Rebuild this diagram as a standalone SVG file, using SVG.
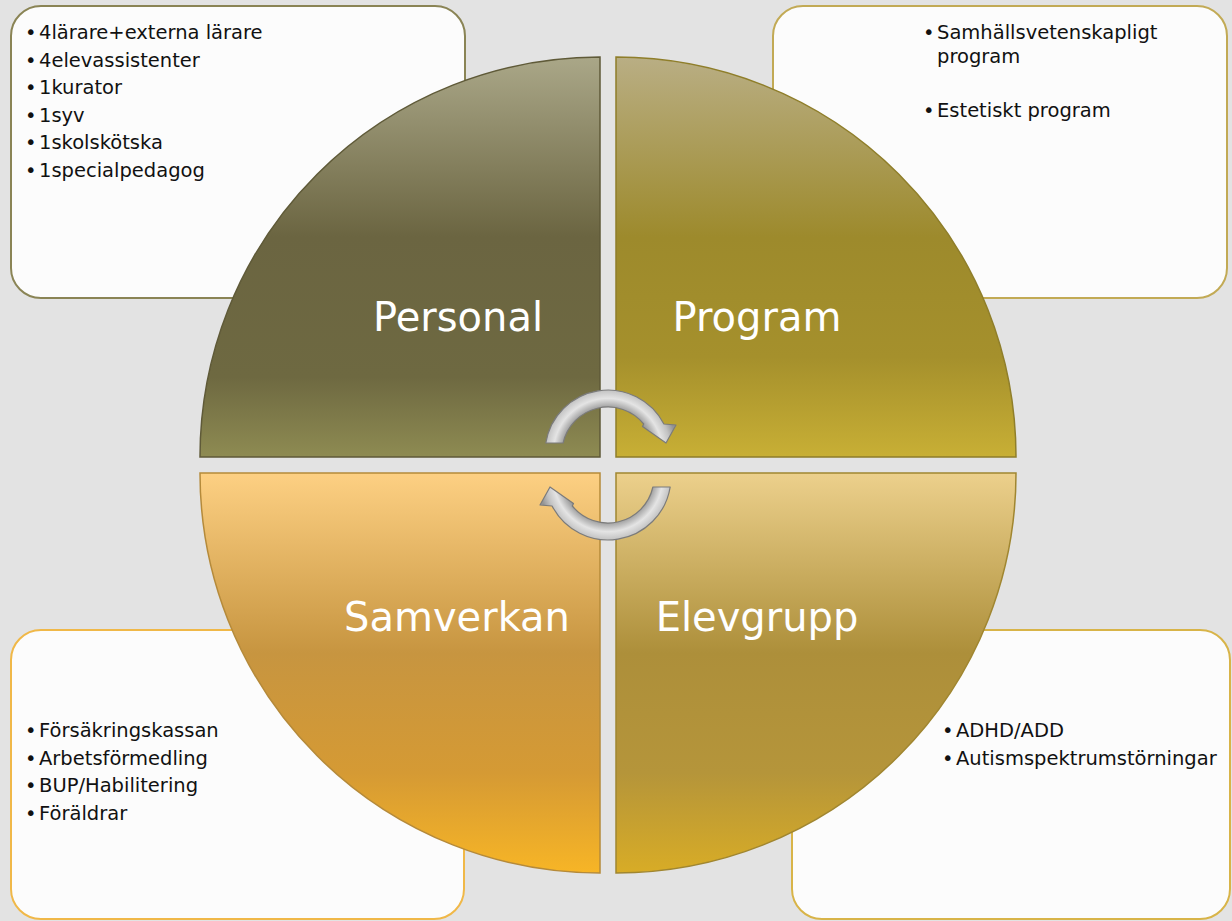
<svg xmlns="http://www.w3.org/2000/svg" width="1232" height="921" viewBox="0 0 1232 921">
<defs>
<linearGradient id="gTL" x1="0" y1="0" x2="0" y2="1"><stop offset="0" stop-color="#aaa788"/><stop offset="0.45" stop-color="#6b6541"/><stop offset="0.8" stop-color="#6e6941"/><stop offset="1" stop-color="#8e8b52"/></linearGradient>
<linearGradient id="gTR" x1="0" y1="0" x2="0" y2="1"><stop offset="0" stop-color="#b9ae84"/><stop offset="0.45" stop-color="#9d8a2c"/><stop offset="0.75" stop-color="#a5902c"/><stop offset="1" stop-color="#c8af35"/></linearGradient>
<linearGradient id="gBL" x1="0" y1="0" x2="0" y2="1"><stop offset="0" stop-color="#fdd083"/><stop offset="0.45" stop-color="#c79540"/><stop offset="0.75" stop-color="#d59a34"/><stop offset="1" stop-color="#f7b526"/></linearGradient>
<linearGradient id="gBR" x1="0" y1="0" x2="0" y2="1"><stop offset="0" stop-color="#ecd08c"/><stop offset="0.45" stop-color="#ad8f3a"/><stop offset="0.75" stop-color="#b5953a"/><stop offset="1" stop-color="#d8ac26"/></linearGradient>
<radialGradient id="gArr" gradientUnits="userSpaceOnUse" cx="608" cy="453" r="70"><stop offset="0.62" stop-color="#8e8e8e"/><stop offset="0.78" stop-color="#e4e4e4"/><stop offset="0.9" stop-color="#c2c2c2"/><stop offset="1" stop-color="#949494"/></radialGradient>
</defs>
<style>
.box{fill:#fcfcfc;stroke-width:2}
.item{font-family:"DejaVu Sans","Liberation Sans",sans-serif;font-size:19.5px;fill:#111}
.label{font-family:"DejaVu Sans","Liberation Sans",sans-serif;font-size:40px;fill:#ffffff;text-anchor:middle}
.quad{stroke-width:1.5}
.arrow{fill:url(#gArr);stroke:#7b7b7b;stroke-width:1.2;stroke-linejoin:round}
</style>
<rect width="1232" height="921" fill="#e3e3e3"/>

<g id="box-personal">
<rect class="box" x="11" y="6" width="454" height="292" rx="30" stroke="#8a8455"/>
<text class="item"><tspan x="25" y="39">•</tspan><tspan x="39" y="39">4lärare+externa lärare</tspan></text>
<text class="item"><tspan x="25" y="66.5">•</tspan><tspan x="39" y="66.5">4elevassistenter</tspan></text>
<text class="item"><tspan x="25" y="94">•</tspan><tspan x="39" y="94">1kurator</tspan></text>
<text class="item"><tspan x="25" y="121.5">•</tspan><tspan x="39" y="121.5">1syv</tspan></text>
<text class="item"><tspan x="25" y="149">•</tspan><tspan x="39" y="149">1skolskötska</tspan></text>
<text class="item"><tspan x="25" y="176.5">•</tspan><tspan x="39" y="176.5">1specialpedagog</tspan></text>
</g>

<g id="box-program">
<rect class="box" x="773" y="6" width="454" height="292" rx="30" stroke="#c2aa55"/>
<text class="item"><tspan x="923" y="39">•</tspan><tspan x="937" y="39">Samhällsvetenskapligt</tspan></text>
<text class="item"><tspan x="937" y="63">program</tspan></text>
<text class="item"><tspan x="923" y="117">•</tspan><tspan x="937" y="117">Estetiskt program</tspan></text>
</g>

<g id="box-samverkan">
<rect class="box" x="11" y="630" width="453" height="289" rx="30" stroke="#f0b848"/>
<text class="item"><tspan x="25" y="737">•</tspan><tspan x="39" y="737">Försäkringskassan</tspan></text>
<text class="item"><tspan x="25" y="764.5">•</tspan><tspan x="39" y="764.5">Arbetsförmedling</tspan></text>
<text class="item"><tspan x="25" y="792">•</tspan><tspan x="39" y="792">BUP/Habilitering</tspan></text>
<text class="item"><tspan x="25" y="819.5">•</tspan><tspan x="39" y="819.5">Föräldrar</tspan></text>
</g>

<g id="box-elevgrupp">
<rect class="box" x="792" y="630" width="438" height="289" rx="30" stroke="#d8b448"/>
<text class="item"><tspan x="942" y="737">•</tspan><tspan x="956" y="737">ADHD/ADD</tspan></text>
<text class="item"><tspan x="942" y="764.5">•</tspan><tspan x="956" y="764.5">Autismspektrumstörningar</tspan></text>
</g>

<g id="personal">
<path class="quad" d="M600,457 L200,457 A400,400 0 0 1 600,57 Z" fill="url(#gTL)" stroke="#5f5a38"/>
<text class="label" x="458" y="331">Personal</text>
</g>
<g id="program">
<path class="quad" d="M616,457 L616,57 A400,400 0 0 1 1016,457 Z" fill="url(#gTR)" stroke="#8f7e2a"/>
<text class="label" x="757" y="331">Program</text>
</g>
<g id="samverkan">
<path class="quad" d="M600,473 L600,873 A400,400 0 0 1 200,473 Z" fill="url(#gBL)" stroke="#b58a3a"/>
<text class="label" x="457" y="631">Samverkan</text>
</g>
<g id="elevgrupp">
<path class="quad" d="M616,473 L1016,473 A400,400 0 0 1 616,873 Z" fill="url(#gBR)" stroke="#a08630"/>
<text class="label" x="757" y="631">Elevgrupp</text>
</g>

<g id="connectors">
<path id="arrow-top" class="arrow" d="M545.8,443 A63,63 0 0 1 663.9,424 L676,425 L666,443 L642.5,426.5 L643.7,424 A46,46 0 0 0 563.1,443 Z"/>
<path id="arrow-bottom" class="arrow" transform="rotate(180 608 465)" d="M545.8,443 A63,63 0 0 1 663.9,424 L676,425 L666,443 L642.5,426.5 L643.7,424 A46,46 0 0 0 563.1,443 Z"/>
</g>
</svg>
